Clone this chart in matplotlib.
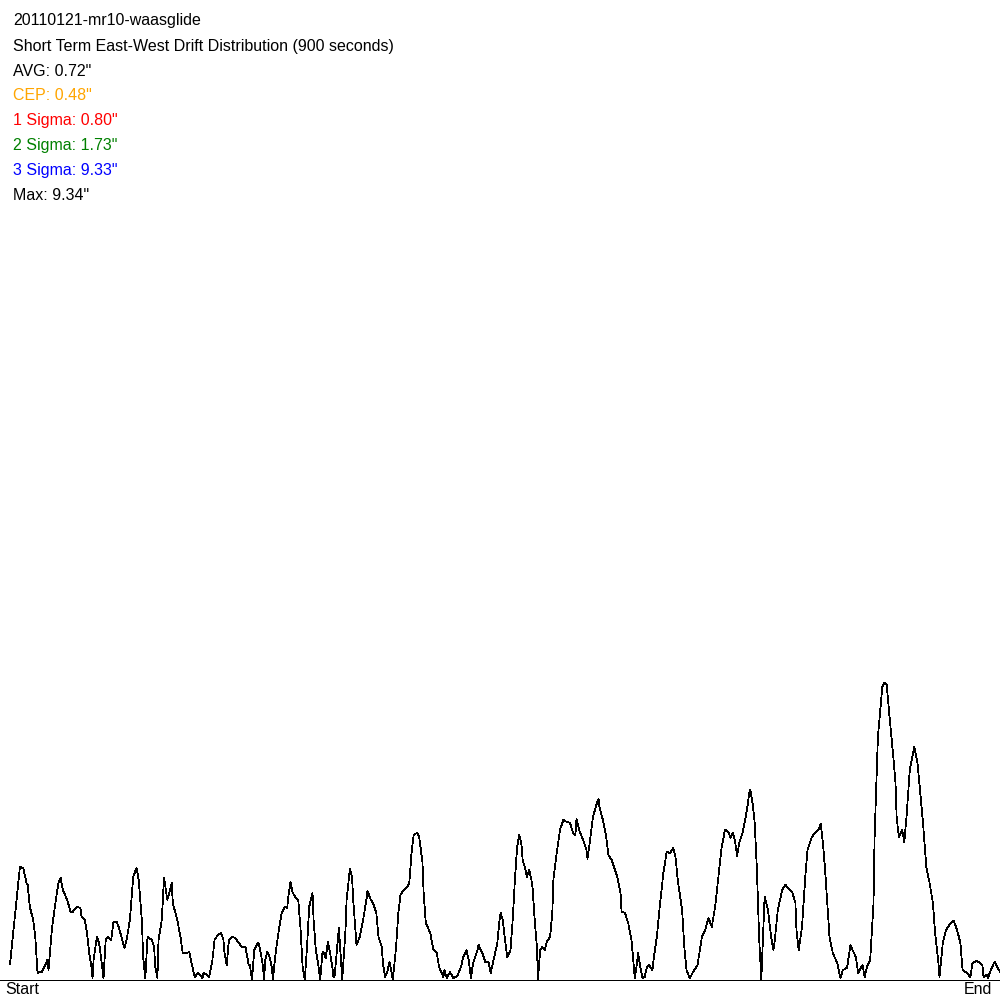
import matplotlib
matplotlib.use("Agg")
import matplotlib.pyplot as plt

plt.rcParams['font.family'] = ['Liberation Sans', 'DejaVu Sans']

title = "20110121-mr10-waasglide"
subtitle = "Short Term East-West Drift Distribution (900 seconds)"

stat_labels = ["AVG", "CEP", "1 Sigma", "2 Sigma", "3 Sigma", "Max"]
stat_values = [0.72, 0.48, 0.80, 1.73, 9.33, 9.34]
stat_colors = ["black", "#FFA500", "red", "green", "blue", "black"]

# elapsed seconds and east-west drift (inches)
seconds = [
    0, 9, 12, 15, 16, 18, 21, 23, 25, 26, 29, 32, 34, 35, 36, 38, 41, 44, 46, 48,
    52, 55, 57, 61, 64, 65, 68, 70, 72, 74, 75, 76, 79, 81, 83, 85, 87, 89, 92, 94,
    97, 99, 102, 104, 106, 109, 112, 115, 117, 120, 121, 123, 125, 129, 131, 132, 134, 135, 138, 140,
    143, 145, 147, 148, 152, 155, 157, 161, 163, 165, 168, 171, 175, 176, 179, 181, 184, 186, 189, 192,
    194, 195, 197, 199, 202, 205, 207, 211, 214, 215, 217,
    218, 220, 222, 225, 226, 228, 230, 231, 232, 234, 236, 238, 239, 241, 244, 247, 250, 252, 253, 255,
    257, 260, 262, 264, 265, 266, 268, 270, 272, 275, 276, 278, 280, 282, 284, 285, 287, 289, 291, 293,
    294, 295, 297, 299, 302, 305, 306, 309, 311, 312, 314, 315, 318, 321, 324, 325, 328, 330, 333, 335,
    338, 339, 341, 343, 345, 347, 348, 351, 353, 355, 358, 361, 363, 365, 367, 370, 372, 375, 376, 378,
    382, 385, 388, 390, 394, 395, 397, 400, 403, 405, 407, 410, 412, 415, 417, 419, 421, 425, 426, 430,
    432, 435, 437, 439, 443, 445,
    446, 448, 450, 452, 455, 457, 459, 461, 463, 465, 466, 468, 470, 472, 474, 475, 477, 479, 480, 482,
    484, 486, 488, 491, 493, 494, 497, 500, 503, 506, 509, 512, 514, 515, 518, 521, 524, 525, 527, 530,
    533, 535, 536, 539, 542, 544, 547, 550, 552, 555, 556, 559, 562, 565, 566, 568, 570, 571, 573, 575,
    577, 579, 581, 584, 585, 588, 591, 594, 597, 600, 603, 605, 607, 611, 613, 615, 618, 621, 625, 629,
    632, 635, 638, 641, 644, 647, 650, 653, 655, 657, 659, 661, 663, 666, 670, 672,
    673, 675, 677, 679, 681, 683, 685, 686, 689, 692, 694, 695, 698, 702, 705, 707, 711, 714, 715, 717,
    720, 723, 725, 729, 732, 735, 737, 739, 741, 743, 745, 748, 752, 755, 757, 761, 764, 766, 769, 771,
    774, 775, 777, 779, 782, 785, 786, 789, 793, 795, 797, 799, 803, 805, 806, 808, 811, 813, 815, 818,
    822, 825, 827, 830, 833, 836, 839, 841, 844, 845, 848, 851, 855, 858, 861, 864, 866, 870, 873, 875,
    879, 884, 885, 888, 889, 891, 895, 898, 900,
]
drift = [
    0.50, 3.55, 3.52, 3.05, 2.99, 2.30, 1.89, 1.35, 0.22, 0.25, 0.25, 0.47, 0.63, 0.31, 0.72, 1.57, 2.36, 3.05, 3.21, 2.83,
    2.52, 2.14, 2.14, 2.30, 2.26, 1.98, 1.89, 1.48, 0.85, 0.41, 0.06, 0.63, 1.35, 1.16, 0.63, 0.06, 1.26, 1.35, 1.26, 1.82,
    1.82, 1.64, 1.26, 1.01, 1.26, 1.89, 3.24, 3.52, 3.15, 1.79, 0.72, 0.06, 1.35, 1.26, 1.04, 0.41, 0.06, 1.26, 1.89, 3.21,
    2.52, 2.77, 3.05, 2.42, 1.89, 1.35, 0.85, 0.85, 0.88, 0.53, 0.09, 0.22, 0.06, 0.22, 0.16, 0.09, 0.63, 1.26, 1.42, 1.48,
    1.26, 0.85, 0.47, 1.26, 1.35, 1.32, 1.20, 1.04, 1.04, 0.85, 0.47,
    0.47, 0.00, 0.94, 1.16, 1.16, 0.85, 0.41, 0.00, 0.63, 0.88, 0.72, 0.41, 0.00, 0.72, 1.48, 2.11, 2.30, 2.26, 2.61, 3.08,
    2.74, 2.58, 2.52, 1.67, 1.04, 0.41, 0.00, 1.04, 2.30, 2.74, 1.89, 0.94, 0.53, 0.00, 0.85, 0.88, 0.69, 1.20, 0.85, 0.41,
    0.09, 0.09, 0.85, 1.64, 0.00, 1.57, 2.52, 3.49, 3.21, 2.52, 1.57, 1.10, 1.35, 1.89, 2.52, 2.80, 2.52, 2.42, 2.11, 1.35,
    1.04, 0.53, 0.09, 0.25, 0.57, 0.22, 0.00, 1.04, 2.11, 2.67, 2.83, 2.92, 3.05, 3.99, 4.56, 4.62, 4.50, 3.68, 2.74, 1.79,
    1.48, 0.94, 0.85, 0.41, 0.09, 0.31, 0.06, 0.25, 0.06, 0.09, 0.16, 0.41, 0.72, 0.94, 0.63, 0.06, 0.53, 0.94, 1.10, 0.79,
    0.57, 0.57, 0.22, 0.53, 1.16, 1.89,
    2.11, 1.89, 1.26, 0.72, 0.94, 1.89, 3.15, 4.18, 4.56, 4.25, 3.77, 3.55, 3.24, 3.46, 3.15, 2.92, 1.89, 1.04, 0.03, 0.94,
    1.04, 0.94, 1.20, 1.35, 2.11, 3.15, 3.99, 4.72, 5.03, 4.97, 4.94, 4.62, 4.56, 5.06, 4.65, 4.40, 4.09, 3.81, 4.31, 5.13,
    5.50, 5.69, 5.41, 5.03, 4.50, 3.93, 3.77, 3.46, 3.24, 2.74, 2.14, 2.11, 1.79, 1.26, 0.85, 0.06, 0.53, 0.85, 0.41, 0.06,
    0.09, 0.41, 0.47, 0.31, 0.63, 1.35, 2.42, 3.37, 4.03, 3.99, 4.15, 3.87, 3.15, 2.20, 1.04, 0.31, 0.06, 0.25, 0.47, 1.35,
    1.57, 1.95, 1.67, 2.30, 3.24, 4.18, 4.72, 4.65, 4.47, 4.62, 4.40, 3.90, 4.31, 4.62, 5.35, 5.88,
    5.98, 5.57, 4.94, 3.46, 1.35, 0.00, 1.79, 2.61, 2.20, 1.35, 0.94, 1.16, 2.20, 2.83, 2.99, 2.89, 2.77, 2.42, 1.57, 0.94,
    1.67, 3.24, 4.09, 4.50, 4.62, 4.72, 4.91, 4.31, 3.46, 2.42, 1.35, 0.85, 0.53, 0.06, 0.31, 0.38, 1.10, 0.94, 0.72, 0.22,
    0.41, 0.47, 0.09, 0.41, 0.63, 2.42, 4.50, 7.64, 9.21, 9.34, 9.28, 8.49, 7.01, 6.20, 5.13, 4.50, 4.72, 4.34, 5.13, 6.60,
    7.33, 6.82, 6.07, 4.94, 3.55, 3.05, 2.42, 1.48, 0.53, 0.09, 1.16, 1.57, 1.79, 1.86, 1.57, 1.16, 0.31, 0.22, 0.09, 0.53,
    0.60, 0.47, 0.09, 0.16, 0.06, 0.25, 0.57, 0.38, 0.25,
]

fig = plt.figure(figsize=(10, 10), dpi=100)
ax = fig.add_axes([0, 0, 1, 1])
ax.plot(seconds, drift, color="black", lw=0.55, antialiased=False)
ax.axhline(0, color="black", lw=0.55, antialiased=False)
ax.set_xlim(-9.1, 900)
ax.set_ylim(-0.63, 30.8)
ax.axis("off")

fs = 11.5
fig.text(0.013, 0.979, title, fontsize=fs, va="center", ha="left")
fig.text(0.013, 0.954, subtitle, fontsize=fs, va="center", ha="left")
for i, (lab, val, col) in enumerate(zip(stat_labels, stat_values, stat_colors)):
    fig.text(0.013, 0.929 - 0.025 * i, '{}: {:.2f}"'.format(lab, val),
             fontsize=fs, color=col, va="center", ha="left")

fig.text(0.005, 0.010, "Start", fontsize=fs, va="center", ha="left")
fig.text(0.992, 0.010, "End", fontsize=fs, va="center", ha="right")

fig.savefig("out.png", dpi=100)
